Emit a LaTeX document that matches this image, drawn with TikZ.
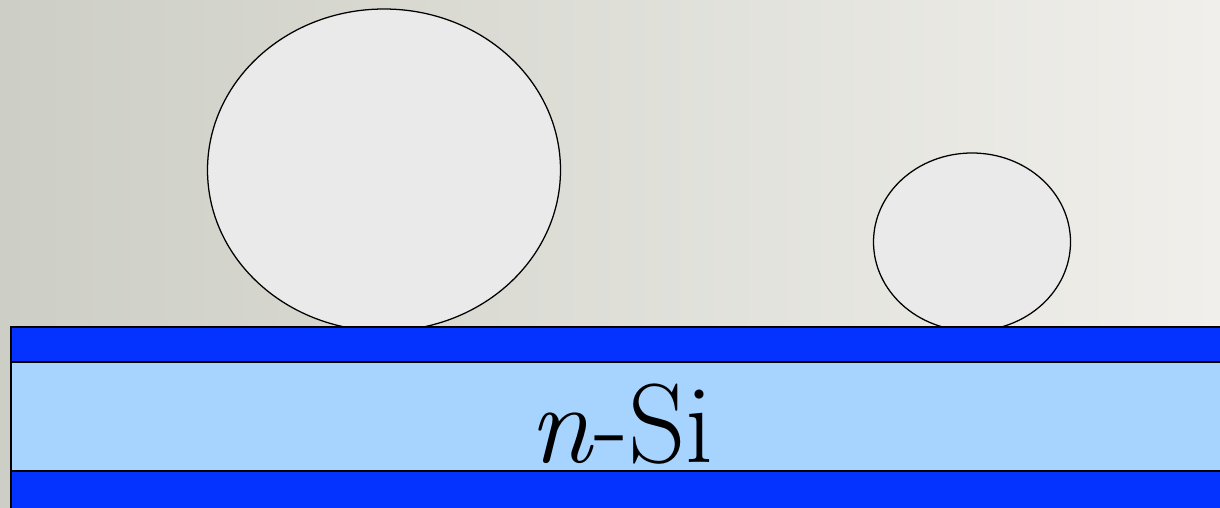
\documentclass[tikz,border=0pt]{standalone}
\usepackage{tikz}
\definecolor{BackLeft}{HTML}{CDCEC5}
\definecolor{BackRight}{HTML}{F0EFEB}
\definecolor{DropGray}{HTML}{EAEAEA}
\definecolor{ContactBlue}{HTML}{0433FF}
\definecolor{SiliconBlue}{HTML}{A7D4FE}
\tikzset{
  drop/.style={draw=black,line width=0.9pt,fill=DropGray},
  contact/.style={draw=black,line width=0.9pt,fill=ContactBlue},
  wafer/.style={draw=black,line width=0.9pt,fill=SiliconBlue}
}

\begin{document}
\begin{tikzpicture}[x=0.025cm,y=-0.025cm]
  % Background
  \shade[left color=BackLeft,right color=BackRight] (0,0) rectangle (1220,507);
  \useasboundingbox (0,0) rectangle (1220,507);

  % Droplets
  \draw[drop] (384,170) ellipse (176.5 and 161);
  \draw[drop] (972,242) ellipse (98.5 and 89);

  % Layers
  \draw[contact] (11,327) rectangle (1225,362);
  \draw[wafer] (11,362) rectangle (1225,471);
  \draw[contact] (11,471) rectangle (1225,512);

  % Label
  \node[font=\fontsize{80}{84}\selectfont,anchor=base] (nsi) at (622,462) {\textit{n}-Si};
\end{tikzpicture}
\end{document}
